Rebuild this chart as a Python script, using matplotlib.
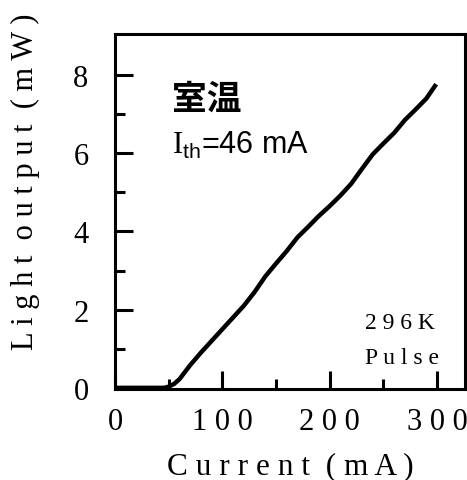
import matplotlib
matplotlib.use('Agg')
import matplotlib.pyplot as plt
from matplotlib.ticker import FixedLocator, FixedFormatter

current = [0, 20, 40, 46, 50, 55, 60, 65, 70, 80, 90, 100, 110, 120, 130,
           140, 150, 160, 170, 180, 190, 200, 210, 220, 230, 240, 250, 260,
           270, 280, 290, 298]
power = [0, 0, 0, 0.0, 0.03, 0.1, 0.22, 0.4, 0.58, 0.9, 1.2, 1.5, 1.8, 2.1,
         2.45, 2.85, 3.18, 3.5, 3.85, 4.12, 4.4, 4.65, 4.92, 5.22, 5.6, 5.97,
         6.25, 6.52, 6.85, 7.12, 7.4, 7.72]

x_ticks = [0, 100, 200, 300]
x_labels = ['0', '1 0 0', '2 0 0', '3 0 0']
y_ticks = [0, 2, 4, 6, 8]
y_labels = ['0', '2', '4', '6', '8']

plt.rcParams['mathtext.fontset'] = 'custom'
plt.rcParams['mathtext.rm'] = 'Liberation Serif'
plt.rcParams['mathtext.sf'] = 'Liberation Sans'

fig = plt.figure(figsize=(4.67, 4.81), dpi=100)
ax = fig.add_axes([115 / 467, 91 / 481, 350 / 467, 355 / 481])

ax.plot(current, power, color='black', lw=3.2)

ax.set_xlim(0, 326)
ax.set_ylim(-0.03, 9.05)

ax.xaxis.set_major_locator(FixedLocator(x_ticks))
ax.xaxis.set_major_formatter(FixedFormatter(x_labels))
ax.yaxis.set_major_locator(FixedLocator(y_ticks))
ax.yaxis.set_major_formatter(FixedFormatter(y_labels))
ax.xaxis.set_minor_locator(FixedLocator([50, 150, 250]))
ax.yaxis.set_minor_locator(FixedLocator([1, 3, 5, 7]))

ax.tick_params(which='both', direction='in', width=2.2, colors='black')
ax.tick_params(which='major', length=13)
ax.tick_params(which='minor', length=7)
ax.tick_params(axis='x', which='major', pad=13, labelsize=22)
ax.tick_params(axis='y', which='major', pad=19, labelsize=22)
for lab in ax.get_xticklabels() + ax.get_yticklabels():
    lab.set_fontfamily('Liberation Serif')

for s in ax.spines.values():
    s.set_linewidth(2.2)

ax.set_xlabel('C u r r e n t  ( m A )', fontfamily='Liberation Serif', fontsize=22.5)
ax.set_ylabel('L i g h t  o u t p u t  ( m W )', fontfamily='Liberation Serif',
              fontsize=22)
ax.xaxis.set_label_coords(0.5, -0.217)
ax.yaxis.set_label_coords(-0.257, 0.586)
ax.xaxis.label.set_va('center')
ax.yaxis.label.set_va('center')

ax.text(0.163, 0.82, '室温', transform=ax.transAxes, fontsize=25,
        fontfamily=['Noto Sans CJK JP', 'DejaVu Sans'], fontweight='bold',
        va='center', ha='left')
ax.text(0.163, 0.69, r'$\mathrm{I}_{\mathsf{th}}$=46 mA', transform=ax.transAxes,
        fontsize=22, fontfamily='Liberation Sans', va='center', ha='left')
ax.text(0.715, 0.188, '2 9 6 K', transform=ax.transAxes, fontsize=17,
        fontfamily='Liberation Serif', va='center', ha='left')
ax.text(0.715, 0.09, 'P u l s e', transform=ax.transAxes, fontsize=17,
        fontfamily='Liberation Serif', va='center', ha='left')

fig.savefig('out.png', dpi=100)
